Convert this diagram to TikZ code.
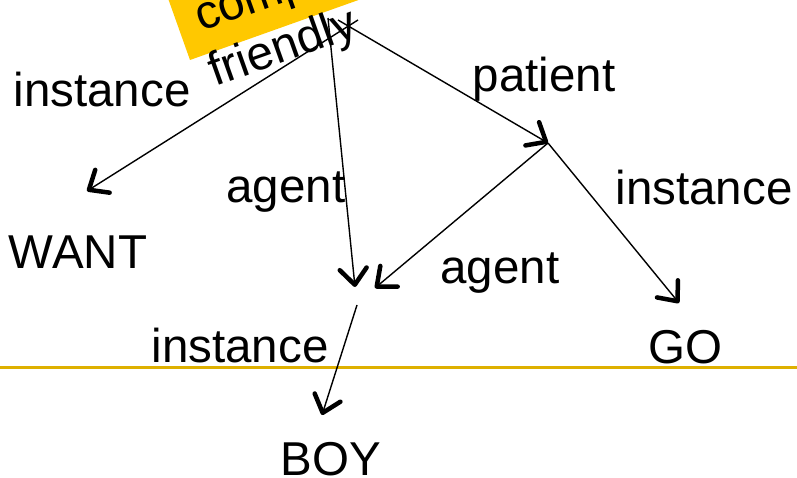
\documentclass[tikz,border=0pt]{standalone}
\usepackage{fontspec}
\setmainfont{Liberation Sans}
\usetikzlibrary{arrows.meta}
\definecolor{boxyellow}{RGB}{255,200,0}
\definecolor{goldline}{RGB}{222,176,0}
\begin{document}
\begin{tikzpicture}[x=1pt,y=-1pt,
  lbl/.style={font=\fontsize{47.5}{47.5}\selectfont, inner sep=0pt, anchor=base},
  rlbl/.style={font=\fontsize{47.5}{47.5}\selectfont, inner sep=0pt, anchor=base west, rotate=19.6},
  edge/.style={line width=1.4pt, -{Straight Barb[length=16pt,width=27pt,line width=4.5pt,round]}},
  plain/.style={line width=1.4pt}]
\useasboundingbox (0,0) rectangle (797,478);
\clip (0,0) rectangle (797,478);
% yellow box
\fill[boxyellow] (190,60) -- ++(-19.6:400) -- ++(-109.6:200) -- ++(160.4:400) -- cycle;
\node[rlbl] (comp) at (201,32) {comp};
\node[rlbl] (friendly) at (215,87) {friendly};
% gold line
\coordinate (gl) at (0,367);
\coordinate (gr) at (797,367);
\draw[goldline, line width=3pt] (gl) -- (gr);
% coordinates
\coordinate (h1) at (358,20);
\coordinate (h2) at (328,18);
\coordinate (h3) at (338,20);
\coordinate (wantTip) at (87,191);
\coordinate (agentTip) at (355,287);
\coordinate (p) at (548,143);
\coordinate (agentTip2) at (375,288);
\coordinate (goTip) at (679,303);
\coordinate (b) at (357,305);
\coordinate (boyTip) at (322,415);
% connectors
\draw[edge] (h1) -- (wantTip);
\draw[edge] (h2) -- (agentTip);
\draw[edge] (h3) -- (p);
\draw[edge] (p) -- (agentTip2);
\draw[edge] (p) -- (goTip);
\draw[edge] (b) -- (boyTip);
% labels
\node[lbl] (inst1) at (102,107) {instance};
\node[lbl] (want) at (78,268) {WANT};
\node[lbl] (agent1) at (286,203) {agent};
\node[lbl] (patient) at (544,92) {patient};
\node[lbl] (inst2) at (704,205) {instance};
\node[lbl] (agent2) at (500,283) {agent};
\node[lbl] (inst3) at (240,362) {instance};
\node[lbl] (go) at (685,363) {GO};
\node[lbl] (boy) at (331,475) {BOY};
\end{tikzpicture}
\end{document}
